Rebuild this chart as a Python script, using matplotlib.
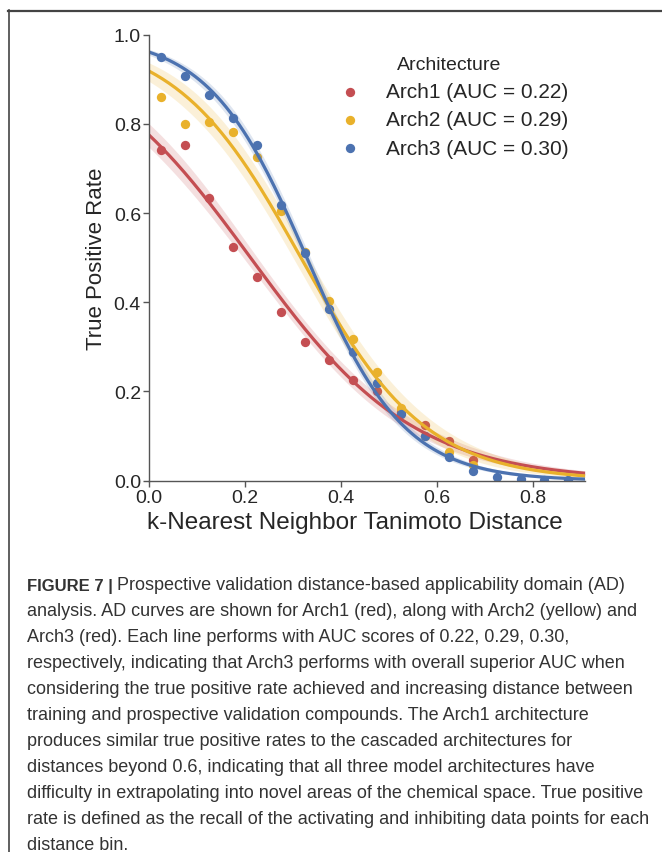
import numpy as np
import matplotlib
matplotlib.use('Agg')
import matplotlib.pyplot as plt
from matplotlib.lines import Line2D

# 거리 구간 (bin 중심)
dist_1 = [0.025, 0.075, 0.125, 0.175, 0.225, 0.275, 0.325, 0.375, 0.425, 0.475,
          0.525, 0.575, 0.625, 0.675]
dist_2 = [0.025, 0.075, 0.125, 0.175, 0.225, 0.275, 0.325, 0.375, 0.425, 0.475,
          0.525, 0.575, 0.625, 0.675]
dist_3 = [0.025, 0.075, 0.125, 0.175, 0.225, 0.275, 0.325, 0.375, 0.425, 0.475,
          0.525, 0.575, 0.625, 0.675, 0.725, 0.775, 0.825, 0.875]

# 구간별 true positive rate
tpr_arch1 = [0.741, 0.753, 0.634, 0.523, 0.457, 0.378, 0.312, 0.271, 0.226, 0.200,
             0.155, 0.125, 0.088, 0.047]
tpr_arch2 = [0.861, 0.799, 0.805, 0.781, 0.725, 0.605, 0.512, 0.404, 0.318, 0.243,
             0.163, 0.100, 0.065, 0.035]
tpr_arch3 = [0.951, 0.907, 0.865, 0.814, 0.753, 0.619, 0.510, 0.385, 0.289, 0.219,
             0.150, 0.100, 0.052, 0.022, 0.008, 0.003, 0.002, 0.002]

labels = ['Arch1 (AUC = 0.22)', 'Arch2 (AUC = 0.29)', 'Arch3 (AUC = 0.30)']
colors = ['#C44E52', '#E9B12B', '#4C72B0']

caption_head = 'FIGURE 7 |'
caption_lines = [
    'Prospective validation distance-based applicability domain (AD)',
    'analysis. AD curves are shown for Arch1 (red), along with Arch2 (yellow) and',
    'Arch3 (red). Each line performs with AUC scores of 0.22, 0.29, 0.30,',
    'respectively, indicating that Arch3 performs with overall superior AUC when',
    'considering the true positive rate achieved and increasing distance between',
    'training and prospective validation compounds. The Arch1 architecture',
    'produces similar true positive rates to the cascaded architectures for',
    'distances beyond 0.6, indicating that all three model architectures have',
    'difficulty in extrapolating into novel areas of the chemical space. True positive',
    'rate is defined as the recall of the activating and inhibiting data points for each',
    'distance bin.',
]


# 로지스틱 회귀 (IRLS, 비율 데이터) + 평균의 95% 신뢰구간
def logistic_fit(x, y, grid):
    x = np.asarray(x)
    y = np.asarray(y)
    X = np.column_stack([np.ones_like(x), x])
    beta = np.zeros(2)
    for _ in range(100):
        p = 1 / (1 + np.exp(-X @ beta))
        w = p * (1 - p)
        z = X @ beta + (y - p) / w
        beta = np.linalg.solve(X.T @ (w[:, None] * X), X.T @ (w * z))
    p = 1 / (1 + np.exp(-X @ beta))
    w = p * (1 - p)
    phi = np.sum((y - p) ** 2 / w) / (len(y) - 2)
    cov = phi * np.linalg.inv(X.T @ (w[:, None] * X))
    G = np.column_stack([np.ones_like(grid), grid])
    eta = G @ beta
    se = np.sqrt(np.einsum('ij,jk,ik->i', G, cov, G))
    f = lambda e: 1 / (1 + np.exp(-e))
    return f(eta), f(eta - 1.96 * se), f(eta + 1.96 * se)


plt.rcParams['font.family'] = ['Liberation Sans', 'DejaVu Sans']
fig = plt.figure(figsize=(6.62, 8.53), dpi=100)
ax = fig.add_axes([0.2255, 0.4353, 0.6585, 0.5228])

grid = np.linspace(0, 0.91, 200)
for xs, ys, c, lab in zip([dist_1, dist_2, dist_3],
                          [tpr_arch1, tpr_arch2, tpr_arch3], colors, labels):
    mid, lo, hi = logistic_fit(xs, ys, grid)
    ax.fill_between(grid, lo, hi, color=c, alpha=0.18, lw=0)
    ax.plot(grid, mid, color=c, lw=2.3)
    ax.scatter(xs, ys, color=c, s=45, lw=0, label=lab)

ax.set_xlim(0, 0.91)
ax.set_ylim(0, 1.0)
ax.set_xticks([0, 0.2, 0.4, 0.6, 0.8])
ax.set_yticks([0, 0.2, 0.4, 0.6, 0.8, 1.0])
for s in ['top', 'right']:
    ax.spines[s].set_visible(False)
for s in ['left', 'bottom']:
    ax.spines[s].set_color('#555555')
    ax.spines[s].set_linewidth(1.0)
ax.tick_params(direction='out', length=4, width=1, color='#555555',
               labelsize=14, labelcolor='#262626', pad=2)
ax.set_xlabel('k-Nearest Neighbor Tanimoto Distance', fontsize=17.5,
              color='#262626')
ax.xaxis.set_label_coords(0.472, -0.068)
ax.set_ylabel('True Positive Rate', fontsize=16, color='#262626', labelpad=5)

leg = ax.legend(title='Architecture', loc='upper left', bbox_to_anchor=(0.37, 0.995),
                frameon=False, fontsize=15, title_fontsize=14,
                handletextpad=0.7, labelspacing=0.45, markerscale=1.0)
leg.get_title().set_color('#262626')
for t in leg.get_texts():
    t.set_color('#262626')

# 바깥 테두리
fig.add_artist(Line2D([8.5 / 662, 8.5 / 662], [0, 1 - 11 / 853], color='#444444', lw=1.2))
fig.add_artist(Line2D([8 / 662, 1], [1 - 11.5 / 853, 1 - 11.5 / 853], color='#444444', lw=1.6))

# 그림 설명
y0 = 1 - 586 / 853
step = 26 / 853
head = fig.text(27 / 662, y0, caption_head, fontsize=12, fontweight='bold',
                color='#333333', va='center')
ax.annotate(caption_lines[0], xy=(1, 0.5), xycoords=head, xytext=(3, 0),
            textcoords='offset points', fontsize=13, color='#333333',
            va='center', annotation_clip=False)
for i, line in enumerate(caption_lines[1:], start=1):
    fig.text(27 / 662, y0 - i * step, line, fontsize=13, color='#333333', va='center')

fig.savefig('out.png', dpi=100)
